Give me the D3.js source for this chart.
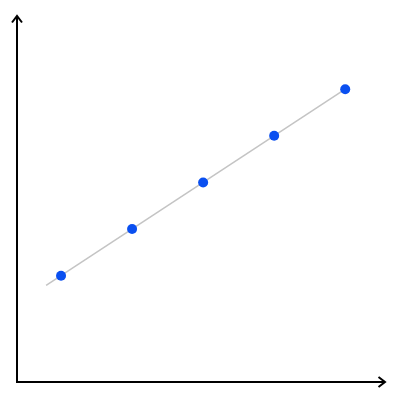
<!DOCTYPE html>
<html>
<head>
<meta charset="utf-8">
<script src="https://cdn.jsdelivr.net/npm/d3@7"></script>
<style>
  body { margin: 0; background: #fff; }
</style>
</head>
<body>
<div id="chart"></div>
<script>
// data points
const xValues = [1, 2, 3, 4, 5];
const yValues = [1, 2, 3, 4, 5];
// fitted line runs from a bit before the first point to the last one
const lineX = [0.79, 5];

(function scatter_fit() {
    const height = 400,
        width = 400,
        margin = ({ top: 16, right: 15, bottom: 18, left: 17 });

    const svg = d3.select("#chart")
        .append("svg")
        .attr("width", width)
        .attr("height", height)
        .attr("viewBox", [0, 0, width, height]);

    const data = xValues.map((x, i) => ({ x: x, y: yValues[i] }));

    let x = d3.scaleLinear()
        .domain([0.38, 5.56])
        .range([margin.left, width - margin.right]);

    let y = d3.scaleLinear()
        .domain([-1.28, 6.57])
        .range([height - margin.bottom, margin.top]);

    const x0 = x.range()[0], x1 = x.range()[1];
    const y0 = y.range()[0], y1 = y.range()[1];

    // axes with open arrow heads
    const axis = svg.append("g")
        .attr("fill", "none")
        .attr("stroke", "#000")
        .attr("stroke-width", 2);

    axis.append("path")
        .attr("d", `M${x0},${y0}H${x1 - 1}`);
    axis.append("path")
        .attr("stroke-linejoin", "miter")
        .attr("d", `M${x1 - 6.5},${y0 - 5}L${x1},${y0}L${x1 - 6.5},${y0 + 5}`);

    axis.append("path")
        .attr("d", `M${x0},${y0 + 1}V${y1 + 1}`);
    axis.append("path")
        .attr("stroke-linejoin", "miter")
        .attr("d", `M${x0 - 5},${y1 + 6.5}L${x0},${y1}L${x0 + 5},${y1 + 6.5}`);

    // fit line (y = x)
    let line = d3.line()
        .x(d => x(d))
        .y(d => y(d));

    svg.append("path")
        .datum(lineX)
        .attr("d", line)
        .attr("fill", "none")
        .attr("stroke", "#c4c4c4")
        .attr("stroke-width", 1.5);

    svg.append("g")
        .selectAll("circle")
        .data(data)
        .join("circle")
        .attr("cx", d => x(d.x))
        .attr("cy", d => y(d.y))
        .attr("r", 5)
        .attr("fill", "#0a4ff0");
})();
</script>
</body>
</html>
